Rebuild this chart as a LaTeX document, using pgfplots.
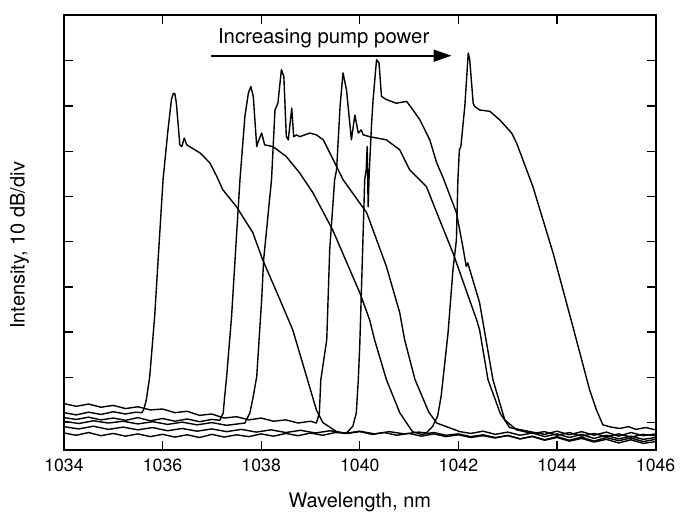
\documentclass[border=0pt]{standalone}
\usepackage{fontspec}
\setmainfont{TeX Gyre Heros}
\usepackage{pgfplots}
\pgfplotsset{compat=1.18}
\usetikzlibrary{arrows.meta}

\pgfplotsset{spec/.style={black, solid, no marks, line width=1pt, line join=round}}

\begin{document}
\begin{tikzpicture}
\begin{axis}[
    scale only axis,
    width=14.8cm, height=10.875cm,
    xmin=1034, xmax=1046, ymin=0, ymax=96.1,
    xtick={1034,1036,...,1046},
    minor x tick num=1,
    ytick={6,16,...,86},
    yticklabels={},
    tick align=inside,
    xtick pos=both, ytick pos=both,
    major tick length=2.2mm, minor tick length=1.7mm,
    axis line style={line width=1.3pt},
    every tick/.style={black, line width=0.9pt},
    /pgf/number format/assume math mode=true,
    /pgf/number format/1000 sep={},
    tick label style={font=\fontsize{12.6}{15}\selectfont},
    label style={font=\fontsize{14.2}{17}\selectfont},
    xlabel={Wavelength, nm},
    ylabel={Intensity, 10 dB/div},
    xlabel style={at={(rel axis cs:0.5,-0.122)}, anchor=center},
    ylabel style={at={(rel axis cs:-0.075,0.47)}, anchor=center},
    xticklabel style={yshift=-3pt},
    clip=false,
]

% fixes the page to the reference's frame
\path (rel axis cs:-0.1081,-0.1632) rectangle (rel axis cs:1.0405,1.0345);

% spectrum 1 (lowest pump)
\addplot[spec] coordinates {
(1034.00,8.2)(1034.25,7.7)(1034.5,8.3)(1034.75,7.8)(1035.0,8.4)(1035.25,7.9)(1035.45,8.3)(1035.58,8.2)
(1035.62,8.9)(1035.67,11.0)(1035.74,16.2)(1035.84,29.5)(1035.91,42.0)(1036.01,59.7)(1036.11,70.7)
(1036.18,77.4)(1036.22,78.8)
(1036.25,78.7)(1036.28,76.6)(1036.35,67.4)(1036.39,67.0)(1036.44,68.9)(1036.49,67.4)(1036.55,67.0)
(1036.76,65.6)(1036.96,63.4)(1037.10,60.4)(1037.22,57.5)(1037.50,53.7)(1037.83,48.0)(1038.03,42.0)
(1038.38,33.2)(1038.64,26.5)(1038.92,16.2)(1039.12,8.8)(1039.25,6.0)(1039.53,4.0)
(1039.75,3.6)(1040.0,4.0)(1040.25,3.4)(1040.5,3.8)(1040.75,3.2)(1041.0,3.6)(1041.25,3.0)(1041.5,3.5)
(1041.75,2.9)(1042.0,3.3)(1042.25,2.7)(1042.5,3.1)(1042.75,2.6)(1043.0,3.2)(1043.25,2.4)(1043.5,3.0)
(1043.75,2.2)(1044.0,2.9)(1044.25,2.1)(1044.5,2.8)(1044.75,1.9)(1045.0,2.7)(1045.25,2.0)(1045.5,2.6)
(1045.75,1.8)(1046.0,2.3)
};

% spectrum 2
\addplot[spec] coordinates {
(1034.0,7.1)(1034.25,6.7)(1034.5,7.2)(1034.75,6.6)(1035.0,7.0)(1035.25,6.5)(1035.5,7.1)(1035.75,6.4)
(1036.0,6.9)(1036.25,6.3)(1036.5,6.8)(1036.75,6.2)(1037.0,6.7)(1037.16,6.5)
(1037.23,8.1)(1037.26,11.8)(1037.30,16.2)(1037.40,29.5)(1037.47,42.0)(1037.57,59.7)(1037.67,73.7)
(1037.74,78.8)(1037.79,80.3)
(1037.84,78.1)(1037.91,67.0)(1037.94,68.1)(1038.01,70.0)(1038.07,67.4)(1038.24,67.0)(1038.51,64.8)
(1038.78,61.2)(1039.05,56.8)(1039.45,48.6)(1040.00,34.7)(1040.20,28.7)(1040.30,24.3)(1040.54,15.5)
(1040.81,8.2)(1040.95,5.9)(1041.07,4.0)
(1041.25,3.4)(1041.5,3.8)(1041.75,3.2)(1042.0,3.5)(1042.25,2.9)(1042.5,3.3)(1042.75,2.7)(1043.0,3.1)
(1043.25,2.4)(1043.5,2.9)(1043.75,2.1)(1044.0,2.7)(1044.25,1.9)(1044.5,2.5)(1044.75,1.7)(1045.0,2.3)
(1045.25,1.5)(1045.5,2.2)(1045.75,1.4)(1046.0,1.8)
};

% spectrum 3
\addplot[spec] coordinates {
(1034.0,6.3)(1034.3,5.8)(1034.6,6.4)(1034.9,5.9)(1035.2,6.3)(1035.5,5.7)(1035.8,6.2)(1036.1,5.6)
(1036.4,6.1)(1036.7,5.5)(1037.0,6.0)(1037.3,5.4)(1037.67,5.9)
(1037.77,8.1)(1037.84,11.8)(1037.91,16.2)(1038.01,33.2)(1038.05,42.0)(1038.21,59.7)(1038.28,75.1)
(1038.34,76.6)(1038.41,84.0)
(1038.46,82.5)(1038.51,69.2)(1038.55,68.5)(1038.62,75.5)(1038.66,69.2)(1038.72,69.6)(1038.78,69.2)
(1038.99,70.0)(1039.12,69.6)(1039.26,68.5)(1039.53,62.6)(1039.66,59.7)(1040.14,52.4)(1040.54,40.5)
(1040.81,30.3)(1040.91,24.3)(1041.12,15.5)(1041.40,8.3)(1041.56,5.9)(1042.03,4.0)
(1042.25,3.6)(1042.5,4.1)(1042.75,3.4)(1043.0,3.9)(1043.25,3.2)(1043.5,3.7)(1043.75,2.9)(1044.0,3.5)
(1044.25,2.7)(1044.5,3.4)(1044.75,2.5)(1045.0,3.2)(1045.25,2.4)(1045.5,3.0)(1045.75,2.3)(1046.0,2.7)
};

% spectrum 4
\addplot[spec] coordinates {
(1034.0,10.2)(1034.25,9.6)(1034.5,10.1)(1034.75,9.4)(1035.0,9.8)(1035.25,9.1)(1035.5,9.5)(1035.75,8.8)
(1036.0,9.0)(1036.25,8.2)(1036.5,8.5)(1036.75,7.6)(1037.0,7.9)(1037.25,7.0)(1037.5,7.3)(1037.75,6.6)
(1038.0,7.0)(1038.25,6.3)(1038.5,6.6)(1038.75,5.9)(1039.0,6.3)(1039.12,5.9)
(1039.18,8.1)(1039.21,15.5)(1039.33,24.3)(1039.39,44.2)(1039.49,59.7)(1039.53,61.9)(1039.60,75.9)
(1039.66,83.3)
(1039.73,79.6)(1039.83,68.5)(1039.90,74.0)(1039.97,70.0)(1040.03,70.7)(1040.07,69.6)(1040.20,69.2)
(1040.54,68.5)(1040.81,66.3)(1041.01,61.9)(1041.35,58.2)(1041.62,50.8)(1041.89,43.5)(1042.37,28.7)
(1042.43,26.5)(1042.60,15.5)(1042.85,8.0)(1043.04,4.9)(1043.45,4.0)
(1043.75,3.4)(1044.0,4.1)(1044.25,3.3)(1044.5,4.0)(1044.75,3.2)(1045.0,3.9)(1045.25,3.0)(1045.5,3.8)
(1045.75,3.1)(1046.0,3.5)
};

% spectrum 5
\addplot[spec] coordinates {
(1034.0,3.7)(1034.25,3.2)(1034.5,3.8)(1034.75,3.1)(1035.0,3.6)(1035.25,3.0)(1035.5,3.5)(1035.75,2.9)
(1036.0,3.4)(1036.25,2.8)(1036.5,3.3)(1036.75,2.7)(1037.0,3.4)(1037.25,2.8)(1037.5,3.3)(1037.75,2.9)
(1038.0,3.5)(1038.25,3.0)(1038.5,3.6)(1038.75,3.1)(1039.0,3.7)(1039.25,3.2)(1039.5,3.8)(1039.73,3.7)
(1039.86,5.2)(1039.93,8.2)(1039.97,15.5)(1040.00,23.2)(1040.06,44.9)(1040.10,59.7)(1040.13,61.9)
(1040.15,67.0)(1040.17,53.7)(1040.19,60.8)(1040.24,72.2)(1040.27,77.4)(1040.34,86.2)(1040.39,85.5)
(1040.44,78.1)(1040.54,77.4)(1040.74,76.6)(1040.95,77.0)(1041.08,75.1)(1041.22,72.9)(1041.42,68.5)
(1041.56,63.4)(1041.68,60.4)(1041.96,52.4)(1042.09,44.9)(1042.16,40.5)(1042.19,41.3)(1042.43,32.5)
(1042.70,15.5)(1042.94,6.6)(1043.18,4.4)
(1043.5,3.6)(1043.75,4.0)(1044.0,3.2)(1044.25,3.8)(1044.5,3.0)(1044.75,3.6)(1045.0,2.9)(1045.25,3.5)
(1045.5,2.8)(1045.75,3.4)(1046.0,3.1)
};

% spectrum 6 (highest pump)
\addplot[spec] coordinates {
(1034.0,5.1)(1034.3,4.6)(1034.6,5.2)(1034.9,4.5)(1035.2,5.0)(1035.5,4.4)(1035.8,4.9)(1036.1,4.2)
(1036.4,4.7)(1036.7,4.1)(1037.0,4.6)(1037.3,4.0)(1037.6,4.5)(1037.9,3.9)(1038.2,4.4)(1038.5,3.8)
(1038.8,4.3)(1039.1,3.7)(1039.4,4.2)(1039.7,3.6)(1040.0,4.1)(1040.3,3.5)(1040.6,4.0)(1040.9,3.5)
(1041.2,3.9)(1041.35,3.7)
(1041.48,5.2)(1041.58,7.5)(1041.65,11.8)(1041.79,25.8)(1041.89,39.8)(1041.96,46.4)(1041.99,59.7)
(1042.02,66.3)(1042.05,67.0)(1042.13,75.9)(1042.20,87.7)(1042.23,86.2)(1042.30,76.6)(1042.33,75.9)
(1042.43,75.1)(1042.64,74.8)(1042.84,72.9)(1043.08,70.0)(1043.18,67.8)(1043.51,58.2)(1043.92,43.5)
(1044.32,27.3)(1044.66,13.3)(1044.80,8.8)(1044.93,5.5)
(1045.1,5.0)(1045.27,4.7)(1045.45,5.1)(1045.6,4.5)(1045.8,4.9)(1046.0,4.4)
};

\draw[line width=1.4pt, -{Triangle[length=4.5mm,width=3mm]}]
    (axis cs:1036.99,87.1) -- (axis cs:1041.86,87.1);
\node[anchor=base west, inner sep=0pt, font=\fontsize{14.5}{17}\selectfont]
    at (axis cs:1037.12,89.7) {Increasing pump power};

\end{axis}
\end{tikzpicture}
\end{document}
